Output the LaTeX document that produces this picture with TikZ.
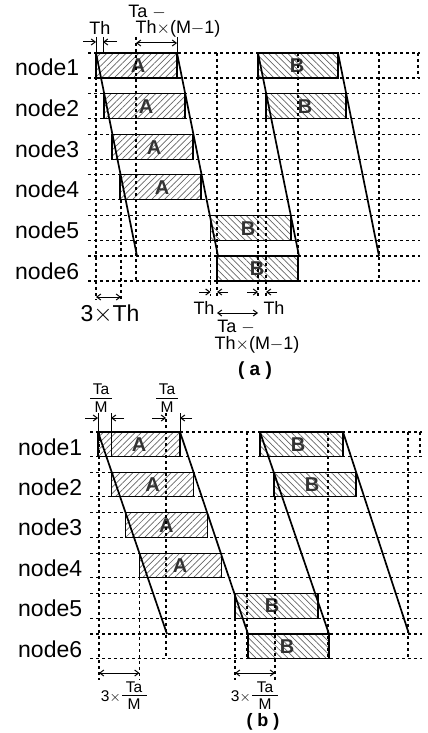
\documentclass[tikz,border=0pt]{standalone}
\usepackage{fontspec}
\setmainfont{Liberation Sans}
\usetikzlibrary{patterns.meta,arrows.meta}
\begin{document}
\begin{tikzpicture}[x=1pt,y=-1pt,
  grid/.style={dash pattern=on 3pt off 3pt, line width=1.1pt},
  slant/.style={line width=1.7pt},
  boxA/.style={draw, line width=1.1pt, pattern={Lines[angle=45,distance=4.5pt,line width=0.7pt]}, pattern color=black!60},
  boxB/.style={draw, line width=1.1pt, pattern={Lines[angle=-45,distance=4.5pt,line width=0.7pt]}, pattern color=black!60},
  lbl/.style={font=\fontsize{23}{23}\selectfont, anchor=base west, inner sep=0pt},
  let/.style={font=\fontsize{20}{20}\selectfont\bfseries, text=black!80, inner sep=0pt},
  ann/.style={font=\fontsize{18}{18}\selectfont, inner sep=0pt},
  sann/.style={font=\fontsize{15.5}{15.5}\selectfont, inner sep=0pt},
  tick/.style={line width=1pt},
  arr/.style={-{Straight Barb[length=4pt,width=6pt]}, line width=1pt},
  darr/.style={{Straight Barb[length=4pt,width=6pt]}-{Straight Barb[length=4pt,width=6pt]}, line width=1pt}
]
\useasboundingbox (0,0) rectangle (428,733);

%% ================= part (a) =================
% A boxes
\foreach \k in {1,...,4}{
  \pgfmathsetmacro\ytop{53+40.6*(\k-1)}
  \pgfmathsetmacro\xl{96+8*(\k-1)}
  \draw[boxA] (\xl,\ytop) rectangle ++(81,25);
  \node[let] (aA\k) at (\xl+42,\ytop+13) {A};
}
% B boxes
\draw[boxB] (258,53) rectangle ++(80,25);
\node[let] (aB1) at (297,66) {B};
\draw[boxB] (266,93.6) rectangle ++(80,25);
\node[let] (aB2) at (305,106.6) {B};
\draw[boxB] (210.5,215.4) rectangle ++(80.5,25);
\node[let] (aB5) at (248,228.4) {B};
\draw[boxB] (217,256) rectangle ++(81,25);
\node[let] (aB6) at (257,269) {B};

% grid
\foreach \k in {1,...,6}{
  \pgfmathsetmacro\ytop{53+40.6*(\k-1)}
  \pgfmathsetmacro\ybot{\ytop+25}
  \draw[grid] (88,\ytop) -- (420,\ytop) (88,\ybot) -- (420,\ybot);
  \node[lbl] (na\k) at (15,\ybot-2) {node\k};
}
\draw[grid] (96,53) -- (96,300);
\draw[grid] (136,37) -- (136,281);
\draw[grid] (217,53) -- (217,296);
\draw[grid] (258,53) -- (258,296);
\draw[grid] (298,53) -- (298,281);
\draw[grid] (379,53) -- (379,281);
\draw[grid] (418,53) -- (418,78);
\draw[grid] (121,199.8) -- (121,300);
\draw[grid] (210.5,240.4) -- (210.5,296);
\draw[grid] (266,118.6) -- (266,296);

% slanted lines
\draw[slant] (96,53) -- (137,256);
\draw[slant] (177,53) -- (218,256);
\draw[slant] (258,53) -- (299,256);
\draw[slant] (338,53) -- (379,256);

% header (a)
\draw[tick] (96,37) -- (96,53);
\draw[tick] (103,37) -- (103,53);
\draw[arr] (83,42) -- (96,42);
\draw[arr] (117,42) -- (103,42);
\node[ann] (aTh) at (100,28) {Th};
\draw[tick] (177,37) -- (177,53);
\draw[darr] (136,43) -- (177,43);
\node[ann] (aTa1) at (147,12) {Ta $-$};
\node[ann] (aTa2) at (178,28.5) {Th$\times$(M$-$1)};

% bottom (a)
\draw[darr] (96,297) -- (121,297);
\node[font=\fontsize{23}{23}\selectfont, inner sep=0pt] (a3Th) at (110,314) {3$\times$Th};
\draw[arr] (199,292) -- (210.5,292);
\draw[arr] (228,292) -- (217,292);
\node[ann] (aTh2) at (204,308) {Th};
\draw[arr] (247,292) -- (258,292);
\draw[arr] (277,292) -- (266,292);
\node[ann] (aTh3) at (274,308) {Th};
\draw[darr] (217,313) -- (258,313);
\node[ann] (aTa3) at (236,327) {Ta $-$};
\node[ann] (aTa4) at (257,345) {Th$\times$(M$-$1)};
\node[font=\fontsize{19}{19}\selectfont\bfseries, inner sep=0pt] (capa) at (255,371) {( a )};

%% ================= part (b) =================
\foreach \k in {1,...,4}{
  \pgfmathsetmacro\ytop{432+40.4*(\k-1)}
  \pgfmathsetmacro\xl{98+13.7*(\k-1)}
  \draw[boxA] (\xl,\ytop) rectangle ++(82,24.5);
  \node[let] (bA\k) at (\xl+41,\ytop+12.5) {A};
}
\draw[boxB] (260,432) rectangle ++(83,24.5);
\node[let] (bB1) at (298,444.5) {B};
\draw[boxB] (274,472.4) rectangle ++(82,24.5);
\node[let] (bB2) at (312,484.9) {B};
\draw[boxB] (235,593.6) rectangle ++(83,24.5);
\node[let] (bB5) at (272,606) {B};
\draw[boxB] (248,634) rectangle ++(81,24.5);
\node[let] (bB6) at (287,646.5) {B};

\foreach \k in {1,...,6}{
  \pgfmathsetmacro\ytop{432+40.4*(\k-1)}
  \pgfmathsetmacro\ybot{\ytop+24.5}
  \draw[grid] (90,\ytop) -- (422,\ytop) (90,\ybot) -- (422,\ybot);
  \node[lbl] (nb\k) at (18,\ybot-1.5) {node\k};
}
\draw[grid] (99,432) -- (99,680);
\draw[grid] (166,413) -- (166,658.5);
\draw[grid] (247,432) -- (247,658.5);
\draw[grid] (328,432) -- (328,658.5);
\draw[grid] (408,432) -- (408,658.5);
\draw[grid] (420,432) -- (420,456.5);
\draw[grid] (139.5,553.2) -- (139.5,680);
\draw[grid] (235,618.1) -- (235,680);
\draw[grid] (275,496.9) -- (275,680);

\draw[slant] (98,432) -- (167,634);
\draw[slant] (180,432) -- (248,634);
\draw[slant] (260,432) -- (329,634);
\draw[slant] (343,432) -- (409,634);

% header (b)
\node[sann] (bTa1) at (101,389) {Ta};
\draw[line width=1pt] (90,398) -- (112,398);
\node[sann] (bM1) at (101,407) {M};
\node[sann] (bTa2) at (167,389) {Ta};
\draw[line width=1pt] (156,398) -- (178,398);
\node[sann] (bM2) at (167,407) {M};
\draw[tick] (98,413) -- (98,432);
\draw[tick] (111,413) -- (111,456.5);
\draw[arr] (85,418) -- (98,418);
\draw[arr] (124,418) -- (111,418);
\draw[tick] (180,413) -- (180,432);
\draw[arr] (152,418) -- (166,418);
\draw[arr] (192,418) -- (180,418);

% bottom (b)
\draw[darr] (99,673) -- (139.5,673);
\node[sann, anchor=east] (b3x1) at (121,697) {3$\times$};
\node[sann] (bTa3) at (134,687) {Ta};
\draw[line width=1pt] (122,695.5) -- (147,695.5);
\node[sann] (bM3) at (134,704) {M};
\draw[darr] (235,673) -- (275,673);
\node[sann, anchor=east] (b3x2) at (251,697) {3$\times$};
\node[sann] (bTa4) at (265,687) {Ta};
\draw[line width=1pt] (252,695.5) -- (278,695.5);
\node[sann] (bM4) at (265,704) {M};
\node[font=\fontsize{18}{18}\selectfont\bfseries, inner sep=0pt] (capb) at (263,722) {( b )};
\end{tikzpicture}
\end{document}
